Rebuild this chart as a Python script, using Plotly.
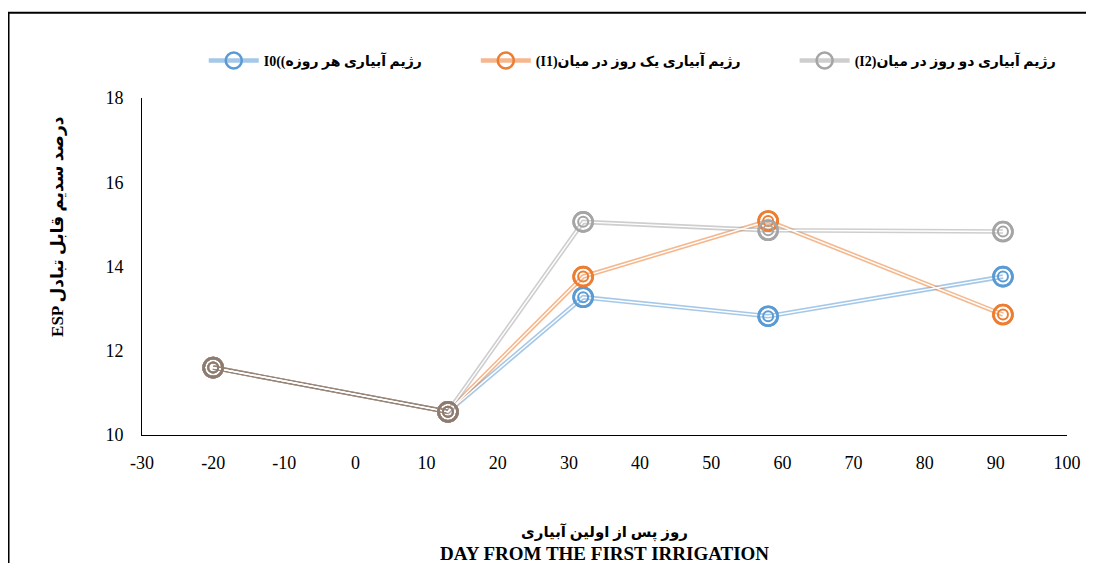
import plotly.graph_objects as go

# ---- data ----
days = [-20, 13, 32, 58, 91]
esp_i0 = [11.6, 10.55, 13.27, 12.82, 13.76]
esp_i1 = [11.6, 10.55, 13.76, 15.08, 12.86]
esp_i2 = [11.6, 10.55, 15.06, 14.86, 14.83]
n_shared = 2  # first two sampling days are common to all regimes

names = [
    "I0((رژیم آبیاری هر روزه",
    "(I1)رژیم آبیاری یک روز در میان",
    "(I2)رژیم آبیاری دو روز در میان",
]
series = [esp_i0, esp_i1, esp_i2]
x_ticks = list(range(-30, 101, 10))
y_ticks = [10, 12, 14, 16, 18]

# ---- styles ----
line_colors = ["rgba(91,155,213,0.55)", "rgba(237,125,49,0.55)", "rgba(165,165,165,0.55)"]
marker_colors = ["#5B9BD5", "#ED7D31", "#A5A5A5"]
shared_line = "rgba(140,123,110,0.75)"
shared_marker = "#8C7B6E"
serif = "Liberation Serif, Times New Roman, serif"
mixed = "Liberation Serif, DejaVu Sans, serif"
legend_pad = "\u00a0" * 14

fig = go.Figure()

for k, (name, vals, lc, mc) in enumerate(zip(names, series, line_colors, marker_colors)):
    label = "<b>" + name + "</b>" + (legend_pad if k < len(names) - 1 else "")
    fig.add_trace(go.Scatter(
        x=days, y=vals, name=label, mode="lines+markers",
        line=dict(color=lc, width=4.6),
        marker=dict(symbol="circle-open", size=19, color=mc, line=dict(width=2.6, color=mc)),
    ))
fig.add_trace(go.Scatter(
    x=days[:n_shared], y=esp_i0[:n_shared], mode="lines", showlegend=False,
    line=dict(color=shared_line, width=4.6), hoverinfo="skip",
))
for vals in series:
    fig.add_trace(go.Scatter(
        x=days, y=vals, mode="lines", showlegend=False,
        line=dict(color="white", width=1.4), hoverinfo="skip",
    ))
for vals, mc in zip(series, marker_colors):
    for size, w in [(19, 2.6), (10, 2.0)]:
        fig.add_trace(go.Scatter(
            x=days, y=vals, mode="markers", showlegend=False, hoverinfo="skip",
            marker=dict(symbol="circle-open", size=size, color=mc, line=dict(width=w, color=mc)),
        ))
for size, w in [(19, 2.6), (10, 2.0)]:
    fig.add_trace(go.Scatter(
        x=days[:n_shared], y=esp_i0[:n_shared], mode="markers", showlegend=False, hoverinfo="skip",
        marker=dict(symbol="circle-open", size=size, color=shared_marker,
                    line=dict(width=w, color=shared_marker)),
    ))

fig.update_layout(
    width=1086, height=555,
    margin=dict(l=134, r=27, t=90, b=128),
    paper_bgcolor="white", plot_bgcolor="white",
    showlegend=True,
    legend=dict(
        orientation="h", x=0.53, xanchor="center", y=1.11, yanchor="middle",
        font=dict(family=mixed, size=14, color="black"),
        itemwidth=50, traceorder="normal",
    ),
    xaxis=dict(
        range=[-30, 100], tickvals=x_ticks, ticktext=[str(t) for t in x_ticks],
        showgrid=False, zeroline=False, showline=True, linecolor="black", linewidth=1,
        ticks="", tickfont=dict(family=serif, size=18, color="black"), ticklabelstandoff=11,
    ),
    yaxis=dict(
        range=[10, 18], tickvals=y_ticks, ticktext=[str(t) for t in y_ticks],
        showgrid=False, zeroline=False, showline=True, linecolor="black", linewidth=1,
        ticks="", tickfont=dict(family=serif, size=18, color="black"), ticklabelstandoff=14,
    ),
    shapes=[dict(type="rect", xref="paper", yref="paper",
                 x0=-0.1443, x1=1.2, y0=-0.6, y1=1.253,
                 line=dict(color="black", width=2), fillcolor="rgba(0,0,0,0)")],
    annotations=[
        dict(text="<b>ESP درصد سدیم قابل تبادل</b>", xref="paper", yref="paper",
             x=-0.092, y=0.62, xanchor="center", yanchor="middle", textangle=-90, showarrow=False,
             font=dict(family=mixed, size=17, color="black")),
        dict(text="<b>روز پس از اولین آبیاری</b>", xref="paper", yref="paper",
             x=0.5, y=-0.289, showarrow=False, yanchor="middle",
             font=dict(family=mixed, size=15, color="black")),
        dict(text="<b>DAY FROM THE FIRST IRRIGATION</b>", xref="paper", yref="paper",
             x=0.5, y=-0.352, showarrow=False, yanchor="middle",
             font=dict(family=serif, size=19, color="black")),
    ],
)

fig.write_html("out.html")
